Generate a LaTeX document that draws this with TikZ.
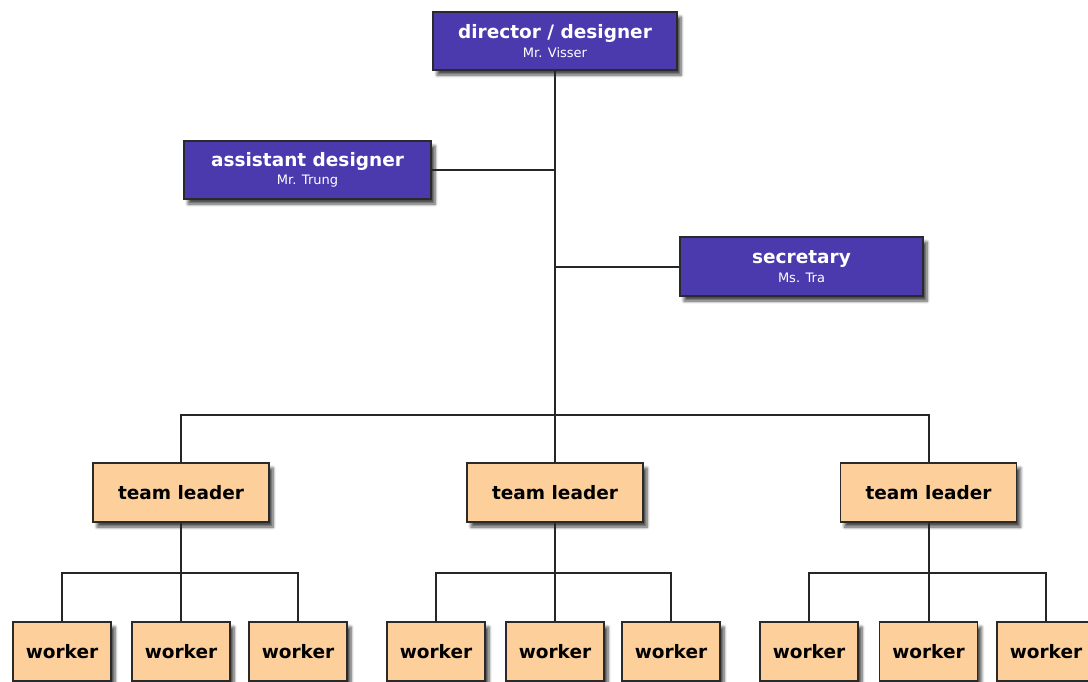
\documentclass[tikz,border=0pt]{standalone}
\usepackage{fontspec}
\setmainfont{DejaVu Sans}
\usetikzlibrary{shadows.blur}
\definecolor{staffblue}{HTML}{4A3AAE}
\definecolor{teampeach}{HTML}{FDCF9B}
\definecolor{boxedge}{HTML}{2A2A2A}
\tikzset{
  basebox/.style={rectangle, draw=boxedge, line width=1.2pt, inner sep=0pt,
    align=center,
    blur shadow={shadow xshift=4pt, shadow yshift=-5pt, shadow opacity=70, shadow blur steps=6, shadow blur radius=3pt}},
  staffbox/.style={basebox, fill=staffblue, text=white, minimum height=58pt},
  leaderbox/.style={basebox, fill=teampeach, text=black, minimum width=176pt, minimum height=59pt,
    font=\fontsize{18.5}{20}\selectfont\bfseries},
  workerbox/.style={basebox, fill=teampeach, text=black, minimum width=98pt, minimum height=59pt,
    font=\fontsize{18.5}{20}\selectfont\bfseries},
  link/.style={draw=black!85, line width=2pt},
}
\newcommand{\stafftext}[2]{{\fontsize{18.5}{22}\selectfont\bfseries #1}\\[4pt]{\fontsize{13}{14}\selectfont #2}}
\begin{document}
\begin{tikzpicture}[x=1pt,y=-1pt]
  \useasboundingbox (0,0) rectangle (1088,681);
  \clip (0,0) rectangle (1088,681);

  % staff boxes
  \node[staffbox, minimum width=244pt] (dir) at (555,41) {\stafftext{director / designer}{Mr. Visser}};
  \node[staffbox, minimum width=247pt] (asst) at (307.5,170) {\stafftext{assistant designer}{Mr. Trung}};
  \node[staffbox, minimum width=243pt, minimum height=59pt] (sec) at (801.5,266.5) {\stafftext{secretary}{Ms. Tra}};

  % team leaders
  \node[leaderbox] (tla) at (181,492.5) {team leader};
  \node[leaderbox] (tlb) at (555,492.5) {team leader};
  \node[leaderbox] (tlc) at (928.5,492.5) {team leader};

  % workers
  \foreach \n/\x in {a1/62, a2/181, a3/298, b1/436, b2/555, b3/671, c1/809, c2/928.5, c3/1046}
    \node[workerbox] (w\n) at (\x,651.5) {worker};

  % junction points of the bars
  \coordinate (bar) at (555,415);
  \coordinate (bara) at (181,573);
  \coordinate (barb) at (555,573);
  \coordinate (barc) at (928.5,573);

  % connectors
  \draw[link] (dir.south) -- (tlb.north);
  \draw[link] (asst.east) -- (asst.east -| dir.south);
  \draw[link] (sec.west) -- (sec.west -| dir.south);
  \draw[link] (tla.north) |- (bar) -| (tlc.north);

  \draw[link] (tla.south) -- (wa2.north);
  \draw[link] (wa1.north) |- (bara) -| (wa3.north);
  \draw[link] (tlb.south) -- (wb2.north);
  \draw[link] (wb1.north) |- (barb) -| (wb3.north);
  \draw[link] (tlc.south) -- (wc2.north);
  \draw[link] (wc1.north) |- (barc) -| (wc3.north);
\end{tikzpicture}
\end{document}
